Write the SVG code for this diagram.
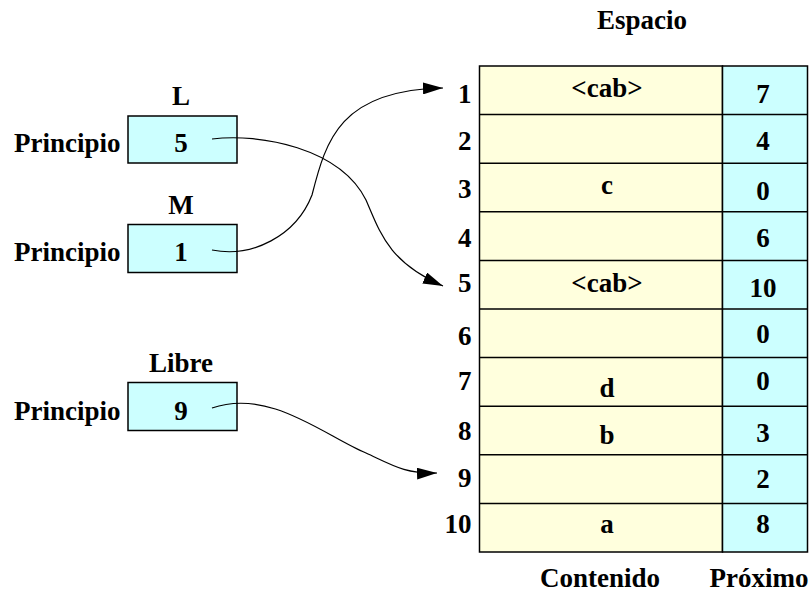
<svg xmlns="http://www.w3.org/2000/svg" width="811" height="592" viewBox="0 0 811 592">
<style>
text{font-family:"Liberation Serif","Times New Roman",serif;font-weight:bold;font-size:27px;fill:#000}
.c{text-anchor:middle}
.r{text-anchor:end}
.box{fill:#ccffff;stroke:#000;stroke-width:1.5}
.yel{fill:#ffffdd;stroke:#000;stroke-width:1.5}
.cy{fill:#ccffff;stroke:#000;stroke-width:1.5}
.ln{stroke:#000;stroke-width:1.5}
.conn{fill:none;stroke:#000;stroke-width:1.2}
</style>
<defs>
<marker id="ah" markerUnits="userSpaceOnUse" markerWidth="22" markerHeight="12" refX="20" refY="6" orient="auto">
<path d="M0,0 L20,6 L0,12 Z" fill="#000"/>
</marker>
</defs>
<rect width="811" height="592" fill="#fff"/>

<g id="espacio">
<text x="642" y="29" class="c">Espacio</text>
<rect class="yel" x="479.5" y="66" width="243" height="486"/>
<rect class="cy" x="722.5" y="66" width="85" height="486"/>
<line class="ln" x1="479.5" y1="114.6" x2="807.5" y2="114.6"/>
<line class="ln" x1="479.5" y1="163.2" x2="807.5" y2="163.2"/>
<line class="ln" x1="479.5" y1="211.8" x2="807.5" y2="211.8"/>
<line class="ln" x1="479.5" y1="260.4" x2="807.5" y2="260.4"/>
<line class="ln" x1="479.5" y1="309" x2="807.5" y2="309"/>
<line class="ln" x1="479.5" y1="357.6" x2="807.5" y2="357.6"/>
<line class="ln" x1="479.5" y1="406.2" x2="807.5" y2="406.2"/>
<line class="ln" x1="479.5" y1="454.8" x2="807.5" y2="454.8"/>
<line class="ln" x1="479.5" y1="503.4" x2="807.5" y2="503.4"/>
<g class="r">
<text x="471.5" y="103" class="r">1</text>
<text x="471.5" y="150" class="r">2</text>
<text x="471.5" y="198" class="r">3</text>
<text x="471.5" y="247" class="r">4</text>
<text x="471.5" y="292" class="r">5</text>
<text x="471.5" y="345" class="r">6</text>
<text x="471.5" y="390" class="r">7</text>
<text x="471.5" y="440" class="r">8</text>
<text x="471.5" y="487" class="r">9</text>
<text x="471.5" y="533" class="r">10</text>
</g>
<text x="607" y="97" class="c">&lt;cab&gt;</text>
<text x="607" y="194" class="c">c</text>
<text x="607" y="292" class="c">&lt;cab&gt;</text>
<text x="607" y="397" class="c">d</text>
<text x="607" y="444" class="c">b</text>
<text x="607" y="533" class="c">a</text>
<text x="763" y="103" class="c">7</text>
<text x="763" y="150" class="c">4</text>
<text x="763" y="200" class="c">0</text>
<text x="763" y="247" class="c">6</text>
<text x="763" y="297" class="c">10</text>
<text x="763" y="343" class="c">0</text>
<text x="763" y="390" class="c">0</text>
<text x="763" y="442" class="c">3</text>
<text x="763" y="488" class="c">2</text>
<text x="763" y="533" class="c">8</text>
<text x="600" y="587" class="c">Contenido</text>
<text x="759" y="587" class="c">Próximo</text>
</g>

<g id="L">
<text x="181" y="105" class="c">L</text>
<text x="14" y="152">Principio</text>
<rect class="box" x="128" y="116" width="109" height="47"/>
<text x="181" y="152" class="c">5</text>
</g>

<g id="M">
<text x="181" y="214" class="c">M</text>
<text x="14" y="261">Principio</text>
<rect class="box" x="128" y="224.5" width="109" height="48"/>
<text x="181" y="261" class="c">1</text>
</g>

<g id="Libre">
<text x="181" y="372" class="c">Libre</text>
<text x="14" y="420">Principio</text>
<rect class="box" x="128" y="382.5" width="109" height="48"/>
<text x="181" y="420" class="c">9</text>
</g>

<g id="connectors">
<path class="conn" d="M212,139 C260,133 340,148 366,200 C380,232 388,262 443,286" marker-end="url(#ah)"/>
<path class="conn" d="M212,250 C252,258 296,236 312,195 C326,140 340,90 443,88" marker-end="url(#ah)"/>
<path class="conn" d="M212,408 C270,388 325,436 366,453 C392,465 405,474 437,473" marker-end="url(#ah)"/>
</g>
</svg>
